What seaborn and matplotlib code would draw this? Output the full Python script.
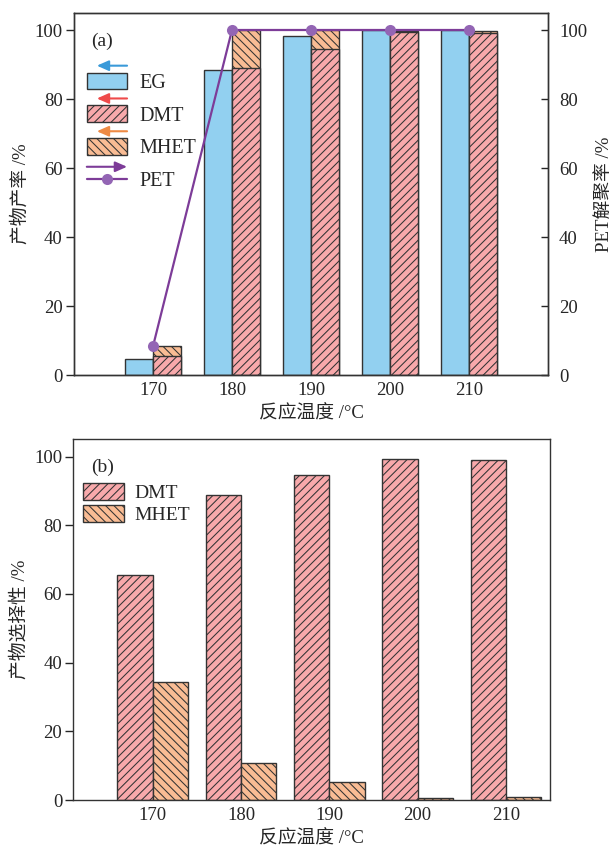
import numpy as np
import matplotlib
matplotlib.use("Agg")
import matplotlib.pyplot as plt
import seaborn as sns
from matplotlib.patches import Patch, FancyArrowPatch
from matplotlib.lines import Line2D
from matplotlib.legend_handler import HandlerPatch, HandlerLine2D

# ----------------------------------------------------------
# DATA
# ----------------------------------------------------------
temps = [170, 180, 190, 200, 210]

# (a) yields / PET conversion, %
eg_yield = [4.6, 88.3, 98.3, 100.0, 100.0]
dmt_yield = [5.5, 89.0, 94.5, 99.3, 99.0]
mhet_yield = [3.0, 11.0, 5.4, 0.5, 0.8]
pet_conv = [8.3, 100.0, 100.0, 100.0, 100.0]

# (b) selectivity, %
dmt_sel = [65.4, 88.9, 94.6, 99.3, 99.1]
mhet_sel = [34.4, 10.8, 5.2, 0.7, 0.9]

# ----------------------------------------------------------
# STYLE
# ----------------------------------------------------------
EG_C = "#92D0F0"
DMT_C = "#F8A9AB"
MHET_C = "#F9BC94"
PET_C = "#7D3C98"
PET_M = "#9365B4"
EDGE = "#333333"
ARROW_EG = "#3A9AD9"
ARROW_DMT = "#EF4A4A"
ARROW_MHET = "#EE8A44"
FS = 13.5
LEG_FS = 14.5
HATCH_DMT = "////"
HATCH_MHET = "\\\\\\\\"

sns.set_theme(style="ticks")
plt.rcParams["font.family"] = ["Liberation Serif", "Noto Sans CJK SC"]
plt.rcParams["hatch.linewidth"] = 0.75
plt.rcParams["axes.linewidth"] = 1.0
plt.rcParams["axes.edgecolor"] = "#333333"


class PatchWithArrow(HandlerPatch):
    def __init__(self, arrow_color, **kw):
        super().__init__(**kw)
        self.arrow_color = arrow_color

    def create_artists(self, legend, orig_handle, xdescent, ydescent,
                       width, height, fontsize, trans):
        artists = super().create_artists(legend, orig_handle, xdescent, ydescent,
                                         width, height, fontsize, trans)
        y = -ydescent + height + 0.34 * fontsize
        arr = FancyArrowPatch((-xdescent + width, y), (-xdescent + 0.25 * width, y),
                              arrowstyle="-|>,head_length=0.5,head_width=0.22",
                              mutation_scale=14, color=self.arrow_color, lw=1.5,
                              shrinkA=0, shrinkB=0, transform=trans)
        return artists + [arr]


class LineWithArrow(HandlerLine2D):
    def __init__(self, arrow_color, **kw):
        super().__init__(**kw)
        self.arrow_color = arrow_color

    def create_artists(self, legend, orig_handle, xdescent, ydescent,
                       width, height, fontsize, trans):
        artists = super().create_artists(legend, orig_handle, xdescent, ydescent,
                                         width, height, fontsize, trans)
        y = -ydescent + height / 2 + 0.62 * fontsize
        arr = FancyArrowPatch((-xdescent, y), (-xdescent + width, y),
                              arrowstyle="-|>,head_length=0.5,head_width=0.22",
                              mutation_scale=14, color=self.arrow_color, lw=1.5,
                              shrinkA=0, shrinkB=0, transform=trans)
        return artists + [arr]


fig = plt.figure(figsize=(6.16, 8.5), dpi=100)
ax1 = fig.add_axes([0.1201, 0.5588, 0.7695, 0.4262])
ax3 = fig.add_axes([0.1190, 0.0588, 0.7739, 0.4242])

x = np.array(temps)
bar_kw = dict(native_scale=True, saturation=1, errorbar=None,
              edgecolor=EDGE, linewidth=1.0)

# ----------------------------------------------------------
# (a) yields
# ----------------------------------------------------------
ha = 1.8
total_yield = [d + m for d, m in zip(dmt_yield, mhet_yield)]
sns.barplot(x=x - ha, y=eg_yield, width=0.36, color=EG_C, ax=ax1, **bar_kw)
sns.barplot(x=x + ha, y=total_yield, width=0.36, color=MHET_C, hatch=HATCH_MHET, ax=ax1, **bar_kw)
sns.barplot(x=x + ha, y=dmt_yield, width=0.36, color=DMT_C, hatch=HATCH_DMT, ax=ax1, **bar_kw)

ax1.set_xlim(160, 220)
ax1.set_ylim(0, 105)
ax1.set_xticks(temps)
ax1.set_xticklabels([str(t) for t in temps])
ax1.set_yticks(range(0, 101, 20))
ax1.tick_params(axis="x", length=0, pad=5, labelsize=FS)
ax1.tick_params(axis="y", direction="out", length=6, width=1, pad=2, labelsize=FS)
ax1.set_xlabel("反应温度 /°C", fontsize=13.5)
ax1.set_ylabel("产物产率 /%", fontsize=13.5)

ax2 = ax1.twinx()
sns.lineplot(x=temps, y=pet_conv, ax=ax2, color=PET_C, lw=1.6, marker="o",
             markersize=8, markeredgewidth=0, markerfacecolor=PET_M)
ax2.set_ylim(0, 105)
ax2.set_yticks(range(0, 101, 20))
ax2.tick_params(axis="y", direction="in", length=5, width=1, pad=8, labelsize=FS)
ax2.set_ylabel("PET解聚率 /%", fontsize=13.5, labelpad=6)

h_eg = Patch(facecolor=EG_C, edgecolor=EDGE, lw=1)
h_dmt = Patch(facecolor=DMT_C, edgecolor=EDGE, hatch=HATCH_DMT, lw=1)
h_mhet = Patch(facecolor=MHET_C, edgecolor=EDGE, hatch=HATCH_MHET, lw=1)
h_pet = Line2D([], [], color=PET_C, lw=1.6, marker="o", ms=8, mew=0, mfc=PET_M)
ax2.legend([h_eg, h_dmt, h_mhet, h_pet], ["EG", "DMT", "MHET", "PET"],
           handler_map={h_eg: PatchWithArrow(ARROW_EG),
                        h_dmt: PatchWithArrow(ARROW_DMT),
                        h_mhet: PatchWithArrow(ARROW_MHET),
                        h_pet: LineWithArrow(PET_C)},
           loc="upper left", bbox_to_anchor=(0.027, 0.835), frameon=False,
           fontsize=LEG_FS, handlelength=2.0, handleheight=0.9, handletextpad=0.6,
           labelspacing=0.62, borderpad=0, borderaxespad=0, numpoints=1)
ax1.text(0.037, 0.92, "(a)", transform=ax1.transAxes, fontsize=14, va="center")

# ----------------------------------------------------------
# (b) selectivity
# ----------------------------------------------------------
hb = 2.0
sns.barplot(x=x - hb, y=dmt_sel, width=0.4, color=DMT_C, hatch=HATCH_DMT, ax=ax3, **bar_kw)
sns.barplot(x=x + hb, y=mhet_sel, width=0.4, color=MHET_C, hatch=HATCH_MHET, ax=ax3, **bar_kw)

ax3.set_xlim(161, 215)
ax3.set_ylim(0, 105)
ax3.set_xticks(temps)
ax3.set_xticklabels([str(t) for t in temps])
ax3.set_yticks(range(0, 101, 20))
ax3.tick_params(axis="x", length=0, pad=5, labelsize=FS)
ax3.tick_params(axis="y", direction="out", length=6, width=1, pad=2, labelsize=FS)
ax3.set_xlabel("反应温度 /°C", fontsize=13.5)
ax3.set_ylabel("产物选择性 /%", fontsize=13.5)

hb_dmt = Patch(facecolor=DMT_C, edgecolor=EDGE, hatch=HATCH_DMT, lw=1)
hb_mhet = Patch(facecolor=MHET_C, edgecolor=EDGE, hatch=HATCH_MHET, lw=1)
ax3.legend([hb_dmt, hb_mhet], ["DMT", "MHET"], loc="upper left",
           bbox_to_anchor=(0.0203, 0.8785), frameon=False, fontsize=14,
           handlelength=2.1, handleheight=0.95, handletextpad=0.55,
           labelspacing=0.14, borderpad=0, borderaxespad=0)
ax3.text(0.037, 0.923, "(b)", transform=ax3.transAxes, fontsize=14, va="center")

fig.savefig("out.png", dpi=100)
